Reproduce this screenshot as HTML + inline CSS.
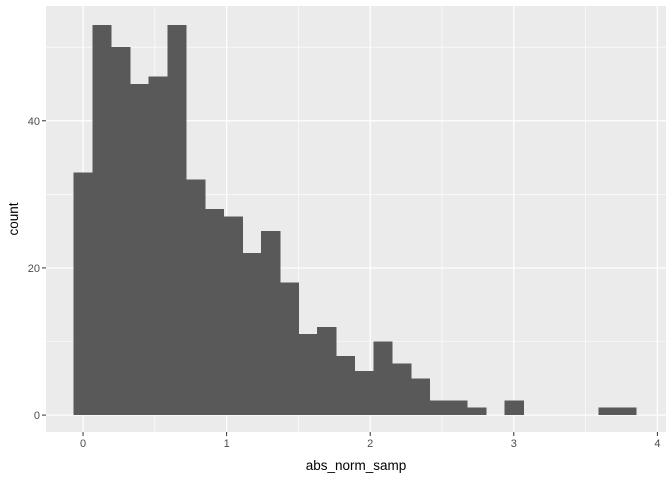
<!DOCTYPE html>
<html><head><meta charset="utf-8"><style>
body{margin:0;background:#fff;}
svg{display:block;font-family:"Liberation Sans",sans-serif;}
</style></head><body>
<svg id="c" width="672" height="480"></svg>
<script>
const counts=[33,53,50,45,46,53,32,28,27,22,25,18,11,12,8,6,10,7,5,2,2,1,0,2,0,0,0,0,1,1];
const binStart=-0.0655;
const binWidth=0.1305;
const xTicks=[0,1,2,3,4];
const yTicks=[0,20,40];
const xMinor=[-0.5,0.5,1.5,2.5,3.5];
const yMinor=[10,30,50];
const P={l:46,r:666,t:6,b:432};
const xd=[-0.258,4.06], yd=[-2.3,55.6];
const X=v=>P.l+(v-xd[0])/(xd[1]-xd[0])*(P.r-P.l);
const Y=v=>P.b-(v-yd[0])/(yd[1]-yd[0])*(P.b-P.t);
const svg=document.getElementById('c');
const NS='http://www.w3.org/2000/svg';
function mk(t,a,p){const e=document.createElementNS(NS,t);for(const k in a)e.setAttribute(k,a[k]);(p||svg).appendChild(e);return e;}
const bg=mk('rect',{x:P.l,y:P.t,width:P.r-P.l,height:P.b-P.t,fill:'#ebebeb'});


xMinor.forEach(v=>{if(v<xd[0])return;const l=mk('line',{x1:X(v),x2:X(v),y1:P.t,y2:P.b,stroke:'#fff','stroke-width':0.6});

});
yMinor.forEach(v=>{const l=mk('line',{x1:P.l,x2:P.r,y1:Y(v),y2:Y(v),stroke:'#fff','stroke-width':0.6});

});
xTicks.forEach(v=>{const l=mk('line',{x1:X(v),x2:X(v),y1:P.t,y2:P.b,stroke:'#fff','stroke-width':1.2});


const t=mk('line',{x1:X(v),x2:X(v),y1:P.b,y2:P.b+4,stroke:'#333','stroke-width':1});


const tx=mk('text',{x:X(v),y:P.b+15,'text-anchor':'middle','font-size':11,fill:'#4d4d4d'});tx.textContent=v;

});
yTicks.forEach(v=>{const l=mk('line',{x1:P.l,x2:P.r,y1:Y(v),y2:Y(v),stroke:'#fff','stroke-width':1.2});


const t=mk('line',{x1:P.l-4,x2:P.l,y1:Y(v),y2:Y(v),stroke:'#333','stroke-width':1});


const tx=mk('text',{x:P.l-6,y:Y(v)+4,'text-anchor':'end','font-size':11,fill:'#4d4d4d'});tx.textContent=v;

});
counts.forEach((c,i)=>{if(!c)return;const x0=X(binStart+i*binWidth),x1=X(binStart+(i+1)*binWidth);
const r=mk('rect',{x:x0,y:Y(c),width:x1-x0+0.5,height:Y(0)-Y(c),fill:'#595959','shape-rendering':'crispEdges'});

});
const xl=mk('text',{x:(P.l+P.r)/2,y:470,'text-anchor':'middle','font-size':13.5,fill:'#000'});xl.textContent='abs_norm_samp';


const yl=mk('text',{x:0,y:0,'text-anchor':'middle','font-size':13.5,fill:'#000',transform:`translate(18,${(P.t+P.b)/2}) rotate(-90)`});yl.textContent='count';


</script>
</body></html>
